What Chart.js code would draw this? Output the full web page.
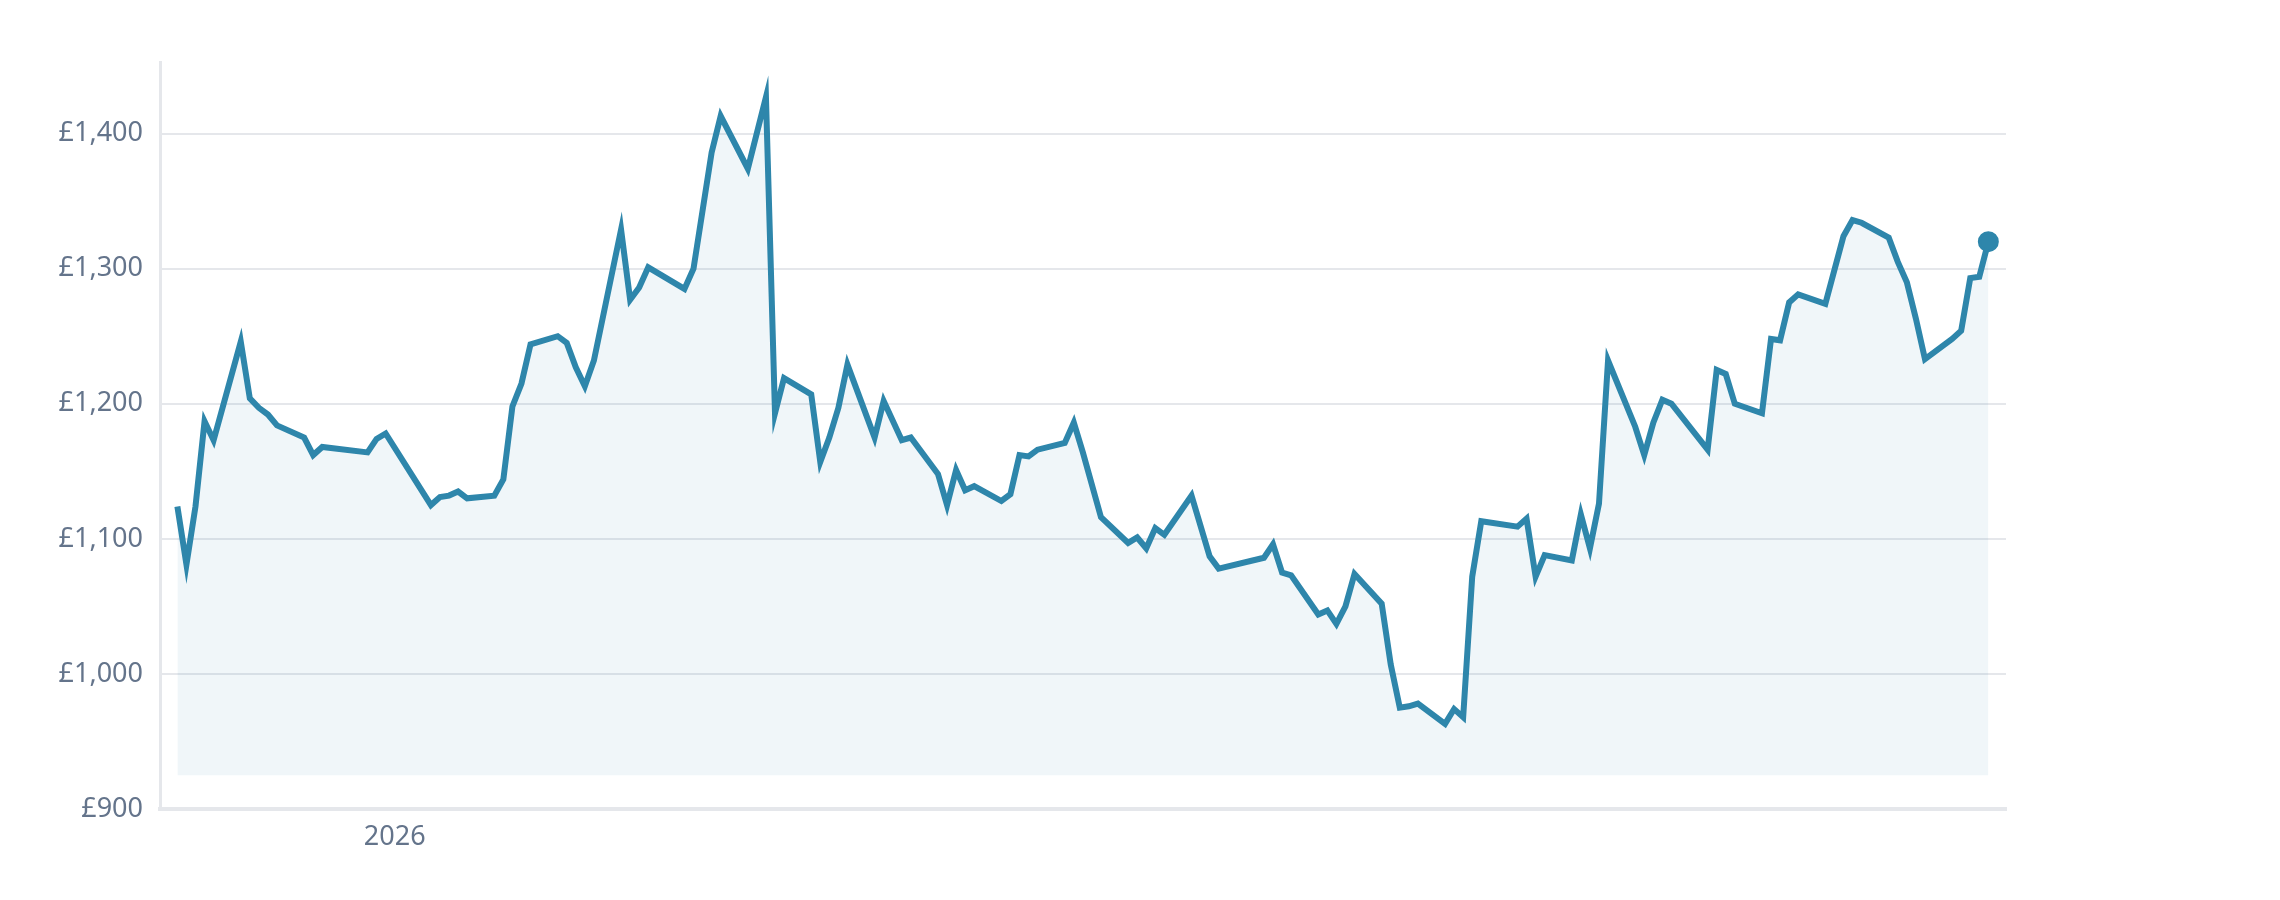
<!DOCTYPE html>
<html>
<head>
<meta charset="utf-8">
<script src="https://cdn.jsdelivr.net/npm/chart.js@4.4.1/dist/chart.umd.min.js"></script>
<style>
  html, body { margin: 0; padding: 0; background: #ffffff; }
  #wrap { width: 2280px; height: 900px; }
</style>
</head>
<body>
<div id="wrap"><canvas id="c" width="2280" height="900"></canvas></div>
<script>
// Trading dates (UK, weekends / bank holidays absent)
const dates = [
  '2025-12-08','2025-12-09','2025-12-10','2025-12-11','2025-12-12',
  '2025-12-15','2025-12-16','2025-12-17','2025-12-18','2025-12-19',
  '2025-12-22','2025-12-23','2025-12-24',
  '2025-12-29','2025-12-30','2025-12-31',
  '2026-01-05','2026-01-06','2026-01-07','2026-01-08','2026-01-09',
  '2026-01-12','2026-01-13','2026-01-14','2026-01-15','2026-01-16',
  '2026-01-19','2026-01-20','2026-01-21','2026-01-22','2026-01-23',
  '2026-01-26','2026-01-27','2026-01-28','2026-01-29',
  '2026-02-02','2026-02-03','2026-02-05','2026-02-06',
  '2026-02-09','2026-02-11','2026-02-12','2026-02-13',
  '2026-02-16','2026-02-17','2026-02-18','2026-02-19','2026-02-20',
  '2026-02-23','2026-02-24','2026-02-26','2026-02-27',
  '2026-03-02','2026-03-03','2026-03-04','2026-03-05','2026-03-06',
  '2026-03-09','2026-03-10','2026-03-11','2026-03-12','2026-03-13',
  '2026-03-16','2026-03-17','2026-03-18','2026-03-20',
  '2026-03-23','2026-03-24','2026-03-25','2026-03-26','2026-03-27',
  '2026-03-30','2026-04-01','2026-04-02',
  '2026-04-07','2026-04-08','2026-04-09','2026-04-10',
  '2026-04-13','2026-04-14','2026-04-15','2026-04-16','2026-04-17',
  '2026-04-20','2026-04-21','2026-04-22','2026-04-23','2026-04-24',
  '2026-04-27','2026-04-28','2026-04-29','2026-04-30','2026-05-01',
  '2026-05-05','2026-05-06','2026-05-07','2026-05-08',
  '2026-05-11','2026-05-12','2026-05-13','2026-05-14','2026-05-15',
  '2026-05-18','2026-05-19','2026-05-20','2026-05-21','2026-05-22',
  '2026-05-26','2026-05-27','2026-05-28','2026-05-29',
  '2026-06-01','2026-06-02','2026-06-03','2026-06-04','2026-06-05',
  '2026-06-08','2026-06-10','2026-06-11','2026-06-12',
  '2026-06-15','2026-06-16','2026-06-17','2026-06-18','2026-06-19',
  '2026-06-22','2026-06-23','2026-06-24','2026-06-25','2026-06-26'
];

// Price (GBP)
const prices = [
  1124, 1081, 1124, 1187, 1173,
  1246, 1204, 1197, 1192, 1184,
  1175, 1162, 1168,
  1164, 1174, 1178,
  1125, 1131, 1132, 1135, 1130,
  1132, 1144, 1198, 1215, 1244,
  1250, 1245, 1227, 1213, 1232,
  1329, 1277, 1286, 1301,
  1285, 1300, 1386, 1413,
  1374, 1427, 1193, 1219,
  1207, 1157, 1175, 1197, 1229,
  1175, 1202, 1173, 1175,
  1148, 1125, 1151, 1136, 1139,
  1128, 1133, 1162, 1161, 1166,
  1171, 1186, 1164, 1116,
  1097, 1101, 1093, 1108, 1103,
  1132, 1087, 1078,
  1086, 1096, 1075, 1073,
  1044, 1047, 1037, 1050, 1074,
  1052, 1007, 975, 976, 978,
  963, 974, 968, 1072, 1113,
  1109, 1115, 1072, 1088,
  1084, 1118, 1093, 1126, 1232,
  1183, 1162, 1186, 1203, 1200,
  1166, 1225, 1222, 1200,
  1193, 1248, 1247, 1275, 1281,
  1274, 1324, 1336, 1334,
  1323, 1305, 1290, 1263, 1233,
  1248, 1254, 1293, 1294, 1320
];

// Axis ticks
const xTickDates = ['2026-01-01'];
const xTickLabels = ['2026'];
const yTicks = [900, 1000, 1100, 1200, 1300, 1400];

const DAY = 86400000;
const toDay = s => { const [y, m, d] = s.split('-').map(Number); return Date.UTC(y, m - 1, d) / DAY; };
const points = dates.map((d, i) => ({ x: toDay(d), y: prices[i] }));
const firstX = points[0].x, lastX = points[points.length - 1].x;
const xTickValues = xTickDates.map(toDay);

const LINE = '#2e86ab';
const TICK = '#64748b';
const GRID = '#e5e7eb';
const FONT = "'Noto Sans', 'DejaVu Sans', sans-serif";

new Chart(document.getElementById('c'), {
  type: 'line',
  data: {
    datasets: [{
      data: points,
      borderColor: LINE,
      borderWidth: 6,
      backgroundColor: 'rgba(46,134,171,0.07)',
      fill: { value: 925 },
      tension: 0,
      pointRadius: points.map((p, i) => i === points.length - 1 ? 9 : 0),
      pointBorderWidth: 3,
      pointBackgroundColor: LINE,
      pointBorderColor: LINE,
      pointHoverRadius: 0
    }]
  },
  options: {
    responsive: false,
    devicePixelRatio: 1,
    animation: false,
    layout: { padding: { top: 62, right: 274, bottom: 0, left: 0 } },
    plugins: { legend: { display: false }, tooltip: { enabled: false } },
    scales: {
      x: {
        type: 'linear',
        min: firstX - 1.92,
        max: lastX + 1.95,
        afterFit: s => { s.height = 91; },
        afterBuildTicks: s => { s.ticks = xTickValues.map(v => ({ value: v })); },
        grid: { display: false, drawTicks: false },
        border: { display: true, color: GRID, width: 4 },
        ticks: {
          padding: 12,
          color: TICK,
          font: { family: FONT, size: 27 },
          maxRotation: 0,
          callback: (v) => { const i = xTickValues.indexOf(v); return i >= 0 ? xTickLabels[i] : ''; }
        }
      },
      y: {
        min: 900,
        max: 1453,
        afterFit: s => { s.width = 160; },
        afterBuildTicks: s => { s.ticks = yTicks.map(v => ({ value: v })); },
        grid: { color: GRID, lineWidth: 2, drawTicks: false },
        border: { display: true, color: GRID, width: 3 },
        ticks: {
          padding: 17,
          color: TICK,
          font: { family: FONT, size: 27 },
          callback: v => '£' + Number(v).toLocaleString('en-GB')
        }
      }
    }
  }
});
</script>
</body>
</html>
